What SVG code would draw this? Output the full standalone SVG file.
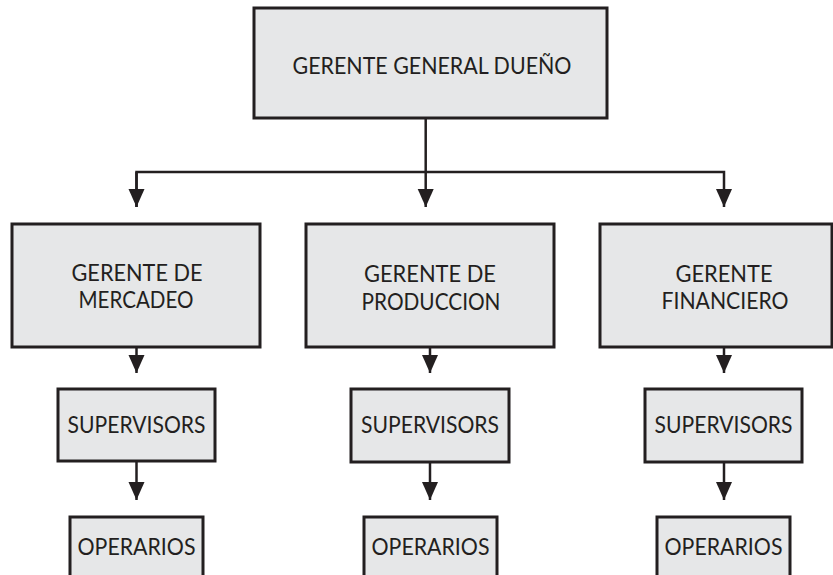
<svg xmlns="http://www.w3.org/2000/svg" width="833" height="575" viewBox="0 0 833 575">
<style>
.box{fill:#e6e7e8;stroke:#231f20;stroke-width:3}
.lbl{font-family:Lato,"Open Sans","DejaVu Sans",sans-serif;font-size:23.5px;fill:#231f20;text-anchor:middle}
.conn{fill:none;stroke:#231f20;stroke-width:2.5}
</style>
<defs>
<marker id="ah" markerUnits="userSpaceOnUse" markerWidth="18" markerHeight="18" viewBox="0 0 18 18" refX="18" refY="9" orient="auto">
<path d="M0,1 L18,9 L0,17 Z" fill="#231f20"/>
</marker>
</defs>
<g id="connectors">
<path class="conn" d="M425.7,118 V207" marker-end="url(#ah)"/>
<path class="conn" d="M136.5,207 V172 H724 V207" marker-end="url(#ah)"/>
<path class="conn" d="M136.5,172 V207" marker-end="url(#ah)"/>
<path class="conn" d="M136.5,347 V373" marker-end="url(#ah)"/>
<path class="conn" d="M136.5,461 V500" marker-end="url(#ah)"/>
<path class="conn" d="M430,347 V373" marker-end="url(#ah)"/>
<path class="conn" d="M430,462 V500" marker-end="url(#ah)"/>
<path class="conn" d="M724,347 V373" marker-end="url(#ah)"/>
<path class="conn" d="M724,462 V500" marker-end="url(#ah)"/>
</g>
<g id="gerente-general">
<rect class="box" x="254" y="8" width="353" height="110"/>
<text class="lbl" x="432" y="74" textLength="279" lengthAdjust="spacingAndGlyphs">GERENTE GENERAL DUEÑO</text>
</g>
<g id="gerente-mercadeo">
<rect class="box" x="12" y="224" width="248" height="123"/>
<text class="lbl" x="137" y="281" textLength="131" lengthAdjust="spacingAndGlyphs">GERENTE DE</text>
<text class="lbl" x="136" y="308" textLength="115" lengthAdjust="spacingAndGlyphs">MERCADEO</text>
</g>
<g id="gerente-produccion">
<rect class="box" x="306" y="224" width="248" height="123"/>
<text class="lbl" x="430" y="282" textLength="132" lengthAdjust="spacingAndGlyphs">GERENTE DE</text>
<text class="lbl" x="431" y="310" textLength="139" lengthAdjust="spacingAndGlyphs">PRODUCCION</text>
</g>
<g id="gerente-financiero">
<rect class="box" x="600" y="224" width="232" height="123"/>
<text class="lbl" x="724" y="282" textLength="97" lengthAdjust="spacingAndGlyphs">GERENTE</text>
<text class="lbl" x="725" y="309" textLength="127" lengthAdjust="spacingAndGlyphs">FINANCIERO</text>
</g>
<g id="supervisors-1">
<rect class="box" x="58" y="389" width="157" height="72"/>
<text class="lbl" x="136.5" y="433" textLength="138" lengthAdjust="spacingAndGlyphs">SUPERVISORS</text>
</g>
<g id="supervisors-2">
<rect class="box" x="351" y="389" width="158" height="73"/>
<text class="lbl" x="430" y="433" textLength="138" lengthAdjust="spacingAndGlyphs">SUPERVISORS</text>
</g>
<g id="supervisors-3">
<rect class="box" x="645" y="389" width="157" height="73"/>
<text class="lbl" x="723.5" y="433" textLength="138" lengthAdjust="spacingAndGlyphs">SUPERVISORS</text>
</g>
<g id="operarios-1">
<rect class="box" x="70" y="517" width="133" height="70"/>
<text class="lbl" x="136.5" y="555" textLength="118" lengthAdjust="spacingAndGlyphs">OPERARIOS</text>
</g>
<g id="operarios-2">
<rect class="box" x="364" y="517" width="133" height="70"/>
<text class="lbl" x="430.5" y="555" textLength="118" lengthAdjust="spacingAndGlyphs">OPERARIOS</text>
</g>
<g id="operarios-3">
<rect class="box" x="657" y="517" width="133" height="70"/>
<text class="lbl" x="723.5" y="555" textLength="118" lengthAdjust="spacingAndGlyphs">OPERARIOS</text>
</g>
</svg>
